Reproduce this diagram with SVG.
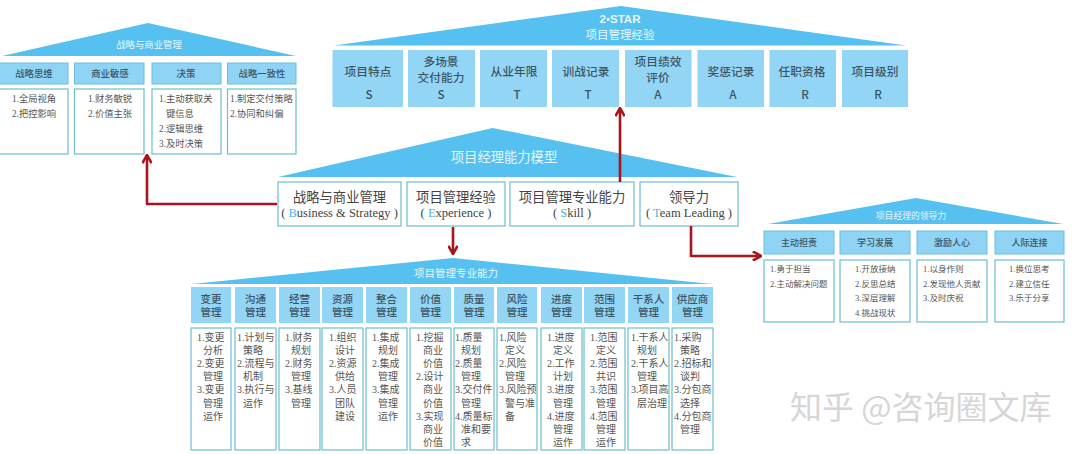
<svg xmlns="http://www.w3.org/2000/svg" width="1080" height="454" viewBox="0 0 1080 454">
<style>
text{font-family:"Liberation Serif","Noto Sans CJK SC",serif;fill:#555}
tspan.n{dy:13.1px}
.roof{fill:#56c1f0}
.hd{fill:#8fd4f5;stroke:#6dbfd6;stroke-width:1}
.top{fill:#93d5f5}
.bx{fill:#fff;stroke:#6dbfce;stroke-width:1.2}
.t{font-family:"Noto Sans CJK SC","Liberation Sans",sans-serif;text-anchor:middle;fill:#e8f7fd}
.h{font-family:"Noto Sans CJK SC","Liberation Sans",sans-serif;text-anchor:middle;font-weight:500;fill:#3d5563}
.i{font-size:10px}
.l{font-size:9.3px}
.r{font-size:8.5px}
.m{text-anchor:middle;fill:#444}
.b{fill:#4bb4dc}
.c{fill:none;stroke:#a8161c;stroke-width:2.6;stroke-linejoin:round}
.wm{font-family:"Noto Sans CJK SC","Liberation Sans",sans-serif;font-size:32px;fill:#d6d6d6}
</style>
<defs>
<marker id="arr" viewBox="0 0 10 10" refX="9" refY="5" markerWidth="4.2" markerHeight="4.2" orient="auto" markerUnits="strokeWidth">
<path d="M1.5 0.8L9 5L1.5 9.2" fill="none" stroke="#a8161c" stroke-width="2.4"/>
</marker>
</defs>

<g id="node-strategy">
<polygon class="roof" points="148,23 296,56 2,56"/>
<text class="t" x="149" y="48" font-size="9.4">战略与商业管理</text>
<rect class="hd" x="-2" y="63" width="70" height="21"/><rect class="hd" x="74.500" y="63" width="69.500" height="21"/><rect class="hd" x="152" y="63" width="69" height="21"/><rect class="hd" x="227.500" y="63" width="68.500" height="21"/>
<text class="h" x="34" y="77" font-size="9.4">战略思维</text><text class="h" x="110" y="77" font-size="9.4">商业敏感</text><text class="h" x="186" y="77" font-size="9.4">决策</text><text class="h" x="262" y="77" font-size="9.4">战略一致性</text>
<rect class="bx" x="-2" y="89" width="70" height="65"/><rect class="bx" x="74.500" y="89" width="69.500" height="65"/><rect class="bx" x="152" y="89" width="69" height="65"/><rect class="bx" x="227.500" y="89" width="68.500" height="65"/>
<text class="l" x="12" y="101.500">1.全局视角<tspan x="12" dy="15">2.把控影响</tspan></text>
<text class="l" x="88" y="101.500">1.财务敏锐<tspan x="88" dy="15">2.价值主张</tspan></text>
<text class="l" x="159" y="101.500">1.主动获取关<tspan x="166" dy="15">键信息</tspan><tspan x="159" dy="15">2.逻辑思维</tspan><tspan x="159" dy="15">3.及时决策</tspan></text>
<text class="l" x="230" y="101.500">1.制定交付策略<tspan x="230" dy="15">2.协同和纠偏</tspan></text>
</g>

<g id="node-experience">
<polygon class="roof" points="621,6 906,45.500 334,45.500"/>
<text class="t" x="620" y="23" font-size="11.500" font-weight="700" style="font-family:'Liberation Sans',sans-serif">2•STAR</text>
<text class="t" x="620" y="38.500" font-size="11.500">项目管理经验</text>
<rect class="top" x="332.500" y="50" width="70.500" height="57"/><rect class="top" x="408" y="50" width="67" height="57"/><rect class="top" x="480" y="50" width="67" height="57"/><rect class="top" x="552" y="50" width="67" height="57"/><rect class="top" x="625" y="50" width="66.500" height="57"/><rect class="top" x="697.500" y="50" width="66.500" height="57"/><rect class="top" x="769.500" y="50" width="66.500" height="57"/><rect class="top" x="842" y="50" width="66" height="57"/>
<g font-size="11.700">
<text class="h" x="368" y="76">项目特点</text><text class="h" x="441" y="66">多场景</text><text class="h" x="441" y="82">交付能力</text><text class="h" x="514" y="76">从业年限</text><text class="h" x="586" y="76">训战记录</text><text class="h" x="658" y="66">项目绩效</text><text class="h" x="658" y="82">评价</text><text class="h" x="731" y="76">奖惩记录</text><text class="h" x="802" y="76">任职资格</text><text class="h" x="875" y="76">项目级别</text>
<text class="h" x="369" y="99">S</text><text class="h" x="441" y="99">S</text><text class="h" x="517" y="99">T</text><text class="h" x="588" y="99">T</text><text class="h" x="658" y="99">A</text><text class="h" x="733" y="99">A</text><text class="h" x="805" y="99">R</text><text class="h" x="878" y="99">R</text>
</g>
</g>

<g id="node-model">
<polygon class="roof" points="492.500,128 737,177 278,177"/>
<text class="t" x="504" y="162" font-size="13.300">项目经理能力模型</text>
<rect class="bx" x="278" y="182" width="123" height="44"/><rect class="bx" x="407" y="182" width="98" height="44"/><rect class="bx" x="510" y="182" width="124" height="44"/><rect class="bx" x="640" y="182" width="98" height="44"/>
<g font-size="13.300">
<text class="m" x="339.500" y="201.500">战略与商业管理</text><text class="m" x="456" y="201.500">项目管理经验</text><text class="m" x="572" y="201.500">项目管理专业能力</text><text class="m" x="689" y="201.500">领导力</text>
</g>
<g font-size="12.500">
<text class="m" x="339.500" y="217">( <tspan class="b">B</tspan>usiness &amp; Strategy )</text>
<text class="m" x="456" y="217">( <tspan class="b">E</tspan>xperience )</text>
<text class="m" x="572" y="217">( <tspan class="b">S</tspan>kill )</text>
<text class="m" x="689" y="217">( <tspan class="b">T</tspan>eam Leading )</text>
</g>
</g>

<g id="node-professional">
<polygon class="roof" points="453,258 712,284 192,284"/>
<text class="t" x="456" y="277" font-size="10.500">项目管理专业能力</text>
<rect class="top" x="191" y="287" width="40" height="36"/><rect class="top" x="235" y="287" width="41" height="36"/><rect class="top" x="279" y="287" width="41" height="36"/><rect class="top" x="322" y="287" width="41" height="36"/><rect class="top" x="366" y="287" width="41" height="36"/><rect class="top" x="410" y="287" width="41" height="36"/><rect class="top" x="454" y="287" width="40" height="36"/><rect class="top" x="497" y="287" width="40" height="36"/><rect class="top" x="541" y="287" width="41" height="36"/><rect class="top" x="584" y="287" width="41" height="36"/><rect class="top" x="628" y="287" width="41" height="36"/><rect class="top" x="672" y="287" width="41" height="36"/>
<g font-size="10.500">
<text class="h" x="211" y="303">变更<tspan x="211" dy="13">管理</tspan></text>
<text class="h" x="255.500" y="303">沟通<tspan x="255.500" dy="13">管理</tspan></text>
<text class="h" x="299.500" y="303">经营<tspan x="299.500" dy="13">管理</tspan></text>
<text class="h" x="342.500" y="303">资源<tspan x="342.500" dy="13">管理</tspan></text>
<text class="h" x="386.500" y="303">整合<tspan x="386.500" dy="13">管理</tspan></text>
<text class="h" x="430.500" y="303">价值<tspan x="430.500" dy="13">管理</tspan></text>
<text class="h" x="474" y="303">质量<tspan x="474" dy="13">管理</tspan></text>
<text class="h" x="517" y="303">风险<tspan x="517" dy="13">管理</tspan></text>
<text class="h" x="561.500" y="303">进度<tspan x="561.500" dy="13">管理</tspan></text>
<text class="h" x="604.500" y="303">范围<tspan x="604.500" dy="13">管理</tspan></text>
<text class="h" x="648.500" y="303">干系人<tspan x="648.500" dy="13">管理</tspan></text>
<text class="h" x="692.500" y="303">供应商<tspan x="692.500" dy="13">管理</tspan></text>
</g>
<rect class="bx" x="191" y="328" width="40" height="122"/><rect class="bx" x="235" y="328" width="41" height="122"/><rect class="bx" x="279" y="328" width="41" height="122"/><rect class="bx" x="322" y="328" width="41" height="122"/><rect class="bx" x="366" y="328" width="41" height="122"/><rect class="bx" x="410" y="328" width="41" height="122"/><rect class="bx" x="454" y="328" width="40" height="122"/><rect class="bx" x="497" y="328" width="40" height="122"/><rect class="bx" x="541" y="328" width="41" height="122"/><rect class="bx" x="584" y="328" width="41" height="122"/><rect class="bx" x="628" y="328" width="41" height="122"/><rect class="bx" x="672" y="328" width="41" height="122"/>
<text class="i" x="197" y="341">1.变更<tspan x="203" dy="13.100">分析</tspan><tspan x="197" dy="13.100">2.变更</tspan><tspan x="203" dy="13.100">管理</tspan><tspan x="197" dy="13.100">3.变更</tspan><tspan x="203" dy="13.100">管理</tspan><tspan x="203" dy="13.100">运作</tspan></text>
<text class="i" x="237" y="341">1.计划与<tspan x="243" dy="13.100">策略</tspan><tspan x="237" dy="13.100">2.流程与</tspan><tspan x="243" dy="13.100">机制</tspan><tspan x="237" dy="13.100">3.执行与</tspan><tspan x="243" dy="13.100">运作</tspan></text>
<text class="i" x="285" y="341">1.财务<tspan x="291" dy="13.100">规划</tspan><tspan x="285" dy="13.100">2.财务</tspan><tspan x="291" dy="13.100">管理</tspan><tspan x="285" dy="13.100">3.基线</tspan><tspan x="291" dy="13.100">管理</tspan></text>
<text class="i" x="329" y="341">1.组织<tspan x="335" dy="13.100">设计</tspan><tspan x="329" dy="13.100">2.资源</tspan><tspan x="335" dy="13.100">供给</tspan><tspan x="329" dy="13.100">3.人员</tspan><tspan x="335" dy="13.100">团队</tspan><tspan x="335" dy="13.100">建设</tspan></text>
<text class="i" x="372" y="341">1.集成<tspan x="378" dy="13.100">规划</tspan><tspan x="372" dy="13.100">2.集成</tspan><tspan x="378" dy="13.100">管理</tspan><tspan x="372" dy="13.100">3.集成</tspan><tspan x="378" dy="13.100">管理</tspan><tspan x="378" dy="13.100">运作</tspan></text>
<text class="i" x="416" y="341">1.挖掘<tspan x="423" dy="13.100">商业</tspan><tspan x="423" dy="13.100">价值</tspan><tspan x="416" dy="13.100">2.设计</tspan><tspan x="423" dy="13.100">商业</tspan><tspan x="423" dy="13.100">价值</tspan><tspan x="416" dy="13.100">3.实现</tspan><tspan x="423" dy="13.100">商业</tspan><tspan x="423" dy="13.100">价值</tspan></text>
<text class="i" x="455" y="341">1.质量<tspan x="461" dy="13.100">规划</tspan><tspan x="455" dy="13.100">2.质量</tspan><tspan x="461" dy="13.100">管理</tspan><tspan x="455" dy="13.100">3.交付件</tspan><tspan x="461" dy="13.100">管理</tspan><tspan x="455" dy="13.100">4.质量标</tspan><tspan x="461" dy="13.100">准和要</tspan><tspan x="461" dy="13.100">求</tspan></text>
<text class="i" x="499" y="341">1.风险<tspan x="505" dy="13.100">定义</tspan><tspan x="499" dy="13.100">2.风险</tspan><tspan x="505" dy="13.100">管理</tspan><tspan x="499" dy="13.100">3.风险预</tspan><tspan x="505" dy="13.100">警与准</tspan><tspan x="505" dy="13.100">备</tspan></text>
<text class="i" x="547" y="341">1.进度<tspan x="553" dy="13.100">定义</tspan><tspan x="547" dy="13.100">2.工作</tspan><tspan x="553" dy="13.100">计划</tspan><tspan x="547" dy="13.100">3.进度</tspan><tspan x="553" dy="13.100">管理</tspan><tspan x="547" dy="13.100">4.进度</tspan><tspan x="553" dy="13.100">管理</tspan><tspan x="553" dy="13.100">运作</tspan></text>
<text class="i" x="590" y="341">1.范围<tspan x="596" dy="13.100">定义</tspan><tspan x="590" dy="13.100">2.范围</tspan><tspan x="596" dy="13.100">共识</tspan><tspan x="590" dy="13.100">3.范围</tspan><tspan x="596" dy="13.100">管理</tspan><tspan x="590" dy="13.100">4.范围</tspan><tspan x="596" dy="13.100">管理</tspan><tspan x="596" dy="13.100">运作</tspan></text>
<text class="i" x="631" y="341">1.干系人<tspan x="637" dy="13.100">规划</tspan><tspan x="631" dy="13.100">2.干系人</tspan><tspan x="637" dy="13.100">管理</tspan><tspan x="631" dy="13.100">3.项目高</tspan><tspan x="637" dy="13.100">层治理</tspan></text>
<text class="i" x="674" y="341">1.采购<tspan x="680" dy="13.100">策略</tspan><tspan x="674" dy="13.100">2.招标和</tspan><tspan x="680" dy="13.100">谈判</tspan><tspan x="674" dy="13.100">3.分包商</tspan><tspan x="680" dy="13.100">选择</tspan><tspan x="674" dy="13.100">4.分包商</tspan><tspan x="680" dy="13.100">管理</tspan></text>
</g>

<g id="node-leadership">
<polygon class="roof" points="916,198 1063,224 768,224"/>
<text class="t" x="911" y="218.500" font-size="8.800">项目经理的领导力</text>
<rect class="hd" x="764" y="231" width="70" height="23"/><rect class="hd" x="840" y="231" width="70" height="23"/><rect class="hd" x="917" y="231" width="70" height="23"/><rect class="hd" x="995" y="231" width="69" height="23"/>
<text class="h" x="799" y="245.500" font-size="9">主动担责</text><text class="h" x="875" y="245.500" font-size="9">学习发展</text><text class="h" x="952" y="245.500" font-size="9">激励人心</text><text class="h" x="1029.500" y="245.500" font-size="9">人际连接</text>
<rect class="bx" x="764" y="260" width="70" height="62"/><rect class="bx" x="840" y="260" width="70" height="62"/><rect class="bx" x="917" y="260" width="70" height="62"/><rect class="bx" x="995" y="260" width="69" height="62"/>
<text class="r" x="770" y="272">1.勇于担当<tspan x="770" dy="14.500">2.主动解决问题</tspan></text>
<text class="r" x="855" y="272">1.开放接纳<tspan x="855" dy="14.500">2.反思总结</tspan><tspan x="855" dy="14.500">3.深层理解</tspan><tspan x="855" dy="14.500">4.挑战现状</tspan></text>
<text class="r" x="923" y="272">1.以身作则<tspan x="923" dy="14.500">2.发现他人贡献</tspan><tspan x="923" dy="14.500">3.及时庆祝</tspan></text>
<text class="r" x="1009" y="272">1.换位思考<tspan x="1009" dy="14.500">2.建立信任</tspan><tspan x="1009" dy="14.500">3.乐于分享</tspan></text>
</g>

<g id="connectors">
<path class="c" marker-end="url(#arr)" d="M277 204H147V155"/>
<path class="c" marker-end="url(#arr)" d="M620 182V108"/>
<path class="c" marker-end="url(#arr)" d="M453 227V254"/>
<path class="c" marker-end="url(#arr)" d="M691 226V256H761"/>
</g>

<text class="wm" x="790" y="419">知乎 @咨询圈文库</text>
</svg>
